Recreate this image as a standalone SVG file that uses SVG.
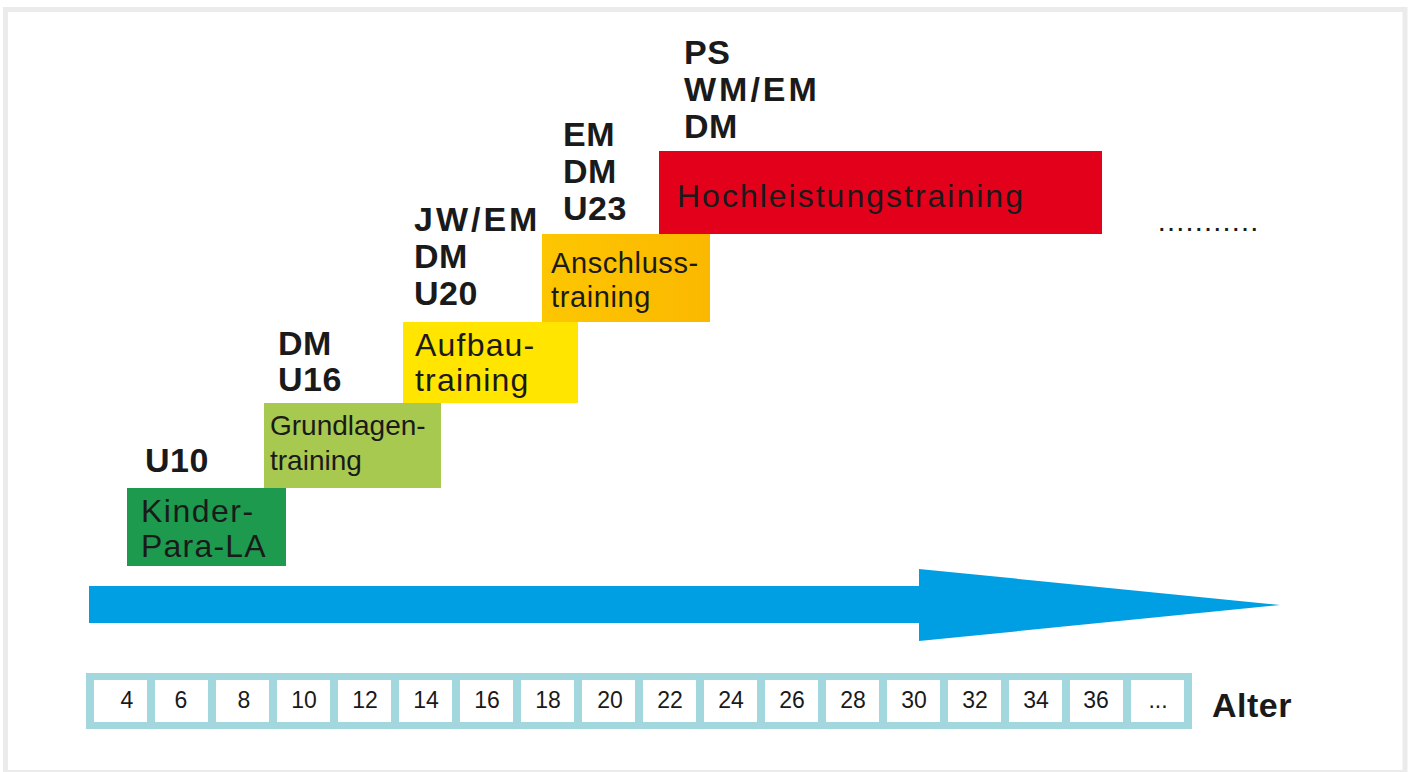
<svg xmlns="http://www.w3.org/2000/svg" width="1411" height="772" viewBox="0 0 1411 772">
<style>
.lbl{font-family:"Liberation Sans",Arial,sans-serif;font-weight:bold;font-size:34px;fill:#1a1a1a;letter-spacing:0.5px}
.sl{letter-spacing:3px}
.bt{font-family:"Liberation Sans",Arial,sans-serif;fill:#1a1a1a}
.num{font-family:"Liberation Sans",Arial,sans-serif;font-size:23px;fill:#1a1a1a;text-anchor:middle}
.cell{fill:#ffffff}
</style>
<defs>
<linearGradient id="gOr" x1="0" y1="0" x2="1" y2="0">
<stop offset="0" stop-color="#fdc600"/><stop offset="1" stop-color="#fbb800"/>
</linearGradient>
</defs>
<rect x="0" y="0" width="1411" height="772" fill="#ffffff"/>
<rect x="5.5" y="9.5" width="1399.5" height="763" fill="none" stroke="#ebebeb" stroke-width="5"/>

<g id="connectors">
<polygon points="89,586 919,586 919,569 1280,605 919,641 919,623 89,623" fill="#009fe3"/>
</g>

<g id="kinder">
<rect x="127" y="488" width="159" height="78" fill="#1d9a4e"/>
<text class="bt" x="141" y="522" font-size="32" letter-spacing="1.5">Kinder-</text>
<text class="bt" x="141" y="557" font-size="32" letter-spacing="1.2">Para-LA</text>
<text class="lbl" x="145" y="472">U10</text>
</g>

<g id="grundlagen">
<rect x="264" y="403" width="177" height="85" fill="#a8c94f"/>
<text class="bt" x="270" y="435" font-size="28">Grundlagen-</text>
<text class="bt" x="270" y="470" font-size="28">training</text>
<text class="lbl" x="278" y="355">DM</text>
<text class="lbl" x="278" y="391">U16</text>
</g>

<g id="aufbau">
<rect x="403" y="322" width="175" height="81" fill="#ffe500"/>
<text class="bt" x="415" y="356" font-size="32" letter-spacing="1.2">Aufbau-</text>
<text class="bt" x="415" y="391" font-size="32" letter-spacing="1.2">training</text>
<text class="lbl sl" x="414" y="231">JW/EM</text>
<text class="lbl" x="414" y="268">DM</text>
<text class="lbl" x="414" y="305">U20</text>
</g>

<g id="anschluss">
<rect x="542" y="234" width="168" height="88" fill="url(#gOr)"/>
<text class="bt" x="551" y="273" font-size="29" letter-spacing="0.6">Anschluss-</text>
<text class="bt" x="551" y="307" font-size="29" letter-spacing="0.6">training</text>
<text class="lbl" x="563" y="146">EM</text>
<text class="lbl" x="563" y="183">DM</text>
<text class="lbl" x="563" y="220">U23</text>
</g>

<g id="hochleistung">
<rect x="659" y="151" width="443" height="83" fill="#e3001b"/>
<text class="bt" x="677" y="207" font-size="32" letter-spacing="2">Hochleistungstraining</text>
<text class="lbl" x="684" y="64">PS</text>
<text class="lbl sl" x="684" y="101">WM/EM</text>
<text class="lbl" x="684" y="138">DM</text>
</g>

<g id="ellipsis">
<text class="bt" x="1159" y="231" font-size="20" font-weight="bold" letter-spacing="3.7">...........</text>
</g>

<g id="agescale">
<rect x="86" y="673" width="1106" height="56" fill="#a2d7de"/>
<rect class="cell" x="94" y="680" width="53" height="42"/>
<rect class="cell" x="155" y="680" width="53" height="42"/>
<rect class="cell" x="216" y="680" width="53" height="42"/>
<rect class="cell" x="277" y="680" width="53" height="42"/>
<rect class="cell" x="338" y="680" width="53" height="42"/>
<rect class="cell" x="399" y="680" width="53" height="42"/>
<rect class="cell" x="460" y="680" width="53" height="42"/>
<rect class="cell" x="521" y="680" width="53" height="42"/>
<rect class="cell" x="582" y="680" width="53" height="42"/>
<rect class="cell" x="643" y="680" width="53" height="42"/>
<rect class="cell" x="704" y="680" width="53" height="42"/>
<rect class="cell" x="765" y="680" width="53" height="42"/>
<rect class="cell" x="826" y="680" width="53" height="42"/>
<rect class="cell" x="887" y="680" width="53" height="42"/>
<rect class="cell" x="948" y="680" width="53" height="42"/>
<rect class="cell" x="1009" y="680" width="53" height="42"/>
<rect class="cell" x="1070" y="680" width="53" height="42"/>
<rect class="cell" x="1131" y="680" width="53" height="42"/>
<text class="num" x="127" y="708">4</text>
<text class="num" x="181" y="708">6</text>
<text class="num" x="244" y="708">8</text>
<text class="num" x="304" y="708">10</text>
<text class="num" x="365" y="708">12</text>
<text class="num" x="426" y="708">14</text>
<text class="num" x="487" y="708">16</text>
<text class="num" x="548" y="708">18</text>
<text class="num" x="610" y="708">20</text>
<text class="num" x="670" y="708">22</text>
<text class="num" x="731" y="708">24</text>
<text class="num" x="792" y="708">26</text>
<text class="num" x="853" y="708">28</text>
<text class="num" x="914" y="708">30</text>
<text class="num" x="975" y="708">32</text>
<text class="num" x="1036" y="708">34</text>
<text class="num" x="1096" y="708">36</text>
<text class="num" x="1158" y="708">...</text>
<text class="lbl" x="1212" y="717" letter-spacing="0">Alter</text>
</g>
</svg>
